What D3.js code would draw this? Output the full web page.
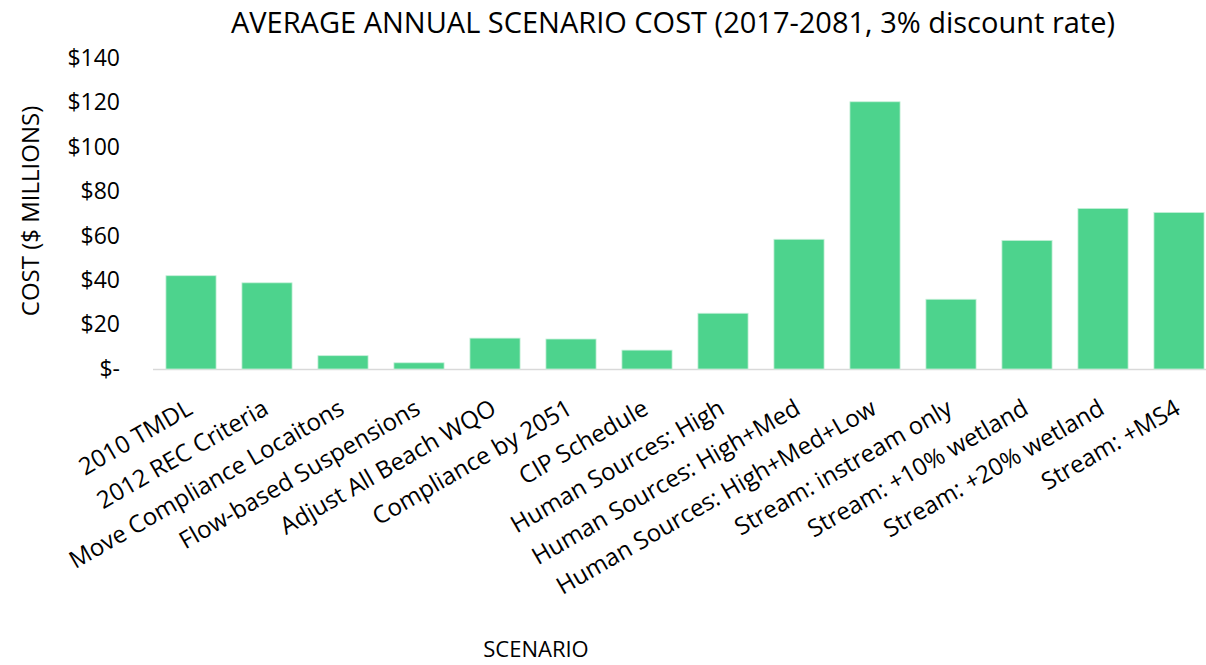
<!DOCTYPE html>
<html><head><meta charset="utf-8">
<script src="https://cdn.jsdelivr.net/npm/d3@7"></script>
<style>body{margin:0;background:#fff}svg{display:block}text{font-family:"Open Sans",Lato,sans-serif;fill:#000}</style>
</head><body><svg id="c" width="1206" height="665"></svg>
<script>
const categories = ["2010 TMDL","2012 REC Criteria","Move Compliance Locaitons","Flow-based Suspensions","Adjust All Beach WQO","Compliance by 2051","CIP Schedule","Human Sources: High","Human Sources: High+Med","Human Sources: High+Med+Low","Stream: instream only","Stream: +10% wetland","Stream: +20% wetland","Stream: +MS4"];
const costs = [42.0,38.8,6.0,2.8,13.9,13.5,8.5,25.1,58.4,120.3,31.4,57.9,72.3,70.5];
const yTicks = [0,20,40,60,80,100,120,140];
const title = "AVERAGE ANNUAL SCENARIO COST (2017-2081, 3% discount rate)";
const yTitle = "COST ($ MILLIONS)";
const xTitle = "SCENARIO";

const svg = d3.select("#c");
const x = d3.scaleBand().domain(categories).range([153,1217]).paddingInner(0.34).paddingOuter(0.17);
const y = d3.scaleLinear().domain([0,140]).range([369,58]);

svg.append("text").attr("x",673).attr("y",33).attr("text-anchor","middle").style("font-size","29px").text(title);

const ya = svg.append("g").attr("transform","translate(120,0)")
  .call(d3.axisLeft(y).tickValues(yTicks).tickSize(0).tickFormat(d=>d===0?"$-":"$"+d));
ya.select(".domain").remove();
ya.selectAll("text").style("font-size","23px").attr("font-family",null).attr("x",0);

svg.append("line").attr("x1",153).attr("x2",1206).attr("y1",y(0)+0.5).attr("y2",y(0)+0.5).attr("stroke","#d9d9d9").attr("stroke-width",1.5);

svg.selectAll("rect.bar").data(costs).join("rect").attr("class","bar")
  .attr("x",(d,i)=>x(categories[i])).attr("width",x.bandwidth())
  .attr("y",d=>y(d)).attr("height",d=>y(0)-y(d))
  .attr("fill","#4dd38d").attr("stroke","#c8f0da").attr("stroke-width",0.8);

const xa = svg.append("g").attr("transform","translate(0,378)")
  .call(d3.axisBottom(x).tickSize(0));
xa.select(".domain").remove();
xa.selectAll("text").style("font-size","24px").attr("font-family",null)
  .attr("text-anchor","end").attr("dy",0).attr("y",0).attr("x",0)
  .attr("transform","translate(3,35) rotate(-30)");

svg.append("text").attr("transform","translate(39,211) rotate(-90)").attr("text-anchor","middle").style("font-size","24px").text(yTitle);
svg.append("text").attr("x",536).attr("y",657).attr("text-anchor","middle").style("font-size","22px").text(xTitle);
</script></body></html>
